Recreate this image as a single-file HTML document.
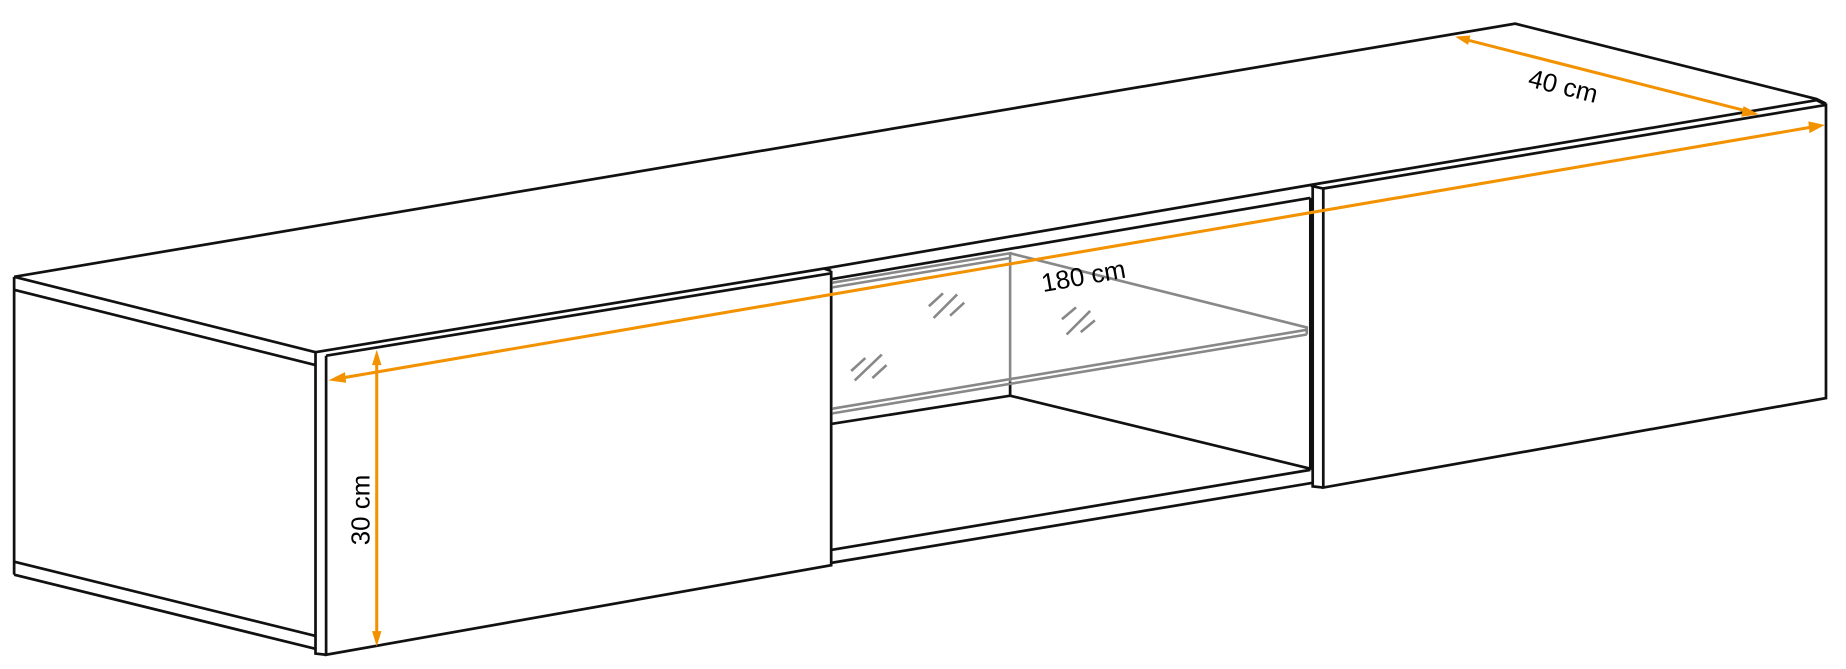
<!DOCTYPE html>
<html><head><meta charset="utf-8"><style>
html,body{margin:0;padding:0;background:#fff;}
svg{display:block;}
text{font-family:"Liberation Sans",sans-serif;font-size:22px;fill:#000;}
</style></head><body>
<svg width="1846" height="669" viewBox="0 0 1568 568" xmlns="http://www.w3.org/2000/svg">
<g fill="none" stroke="#111" stroke-width="2.3" stroke-linejoin="miter">
<path d="M12,235 L1287,20 L1543,84 L1551,88"/>
<path d="M12,235 L268,299"/>
<path d="M12,246 L268,310"/>
<path d="M12,235 L12,488"/>
<path d="M12,477 L268,540"/>
<path d="M12,488 L268,551"/>
<path d="M268,299 L700,228 L706,230"/>
<path d="M277,302 L706,232"/>
<path d="M268,299 L268,555 L277,556"/>
<path d="M277,302 L277,556 L706,480 L706,230"/>
<path d="M700,228 L1113,157 L1543,85"/>
<path d="M706,237 L1113,168"/>
<path d="M1113,157 L1115,158 L1124,160"/>
<path d="M1115,158 L1115,413 L1124,414"/>
<path d="M1124,160 L1551,89 L1551,338 L1124,414 Z"/>
<path d="M1543,85 L1551,89"/>
<path d="M706,360 L858,336 L1113,398"/>
<path d="M858,324 L858,336"/>
<path d="M706,467 L1113,399"/>
<path d="M706,478 L1115,410"/>
<path d="M1113,168 L1113,399"/>
</g>
<g fill="none" stroke="#888" stroke-width="2.2">
<path d="M707,240 L858,215 L858,324"/>
<path d="M707,244 L858,219"/>
<path d="M858,215 L1110,278 L1110,284"/>
<path d="M707,347 L1110,280"/>
<path d="M707,351 L1110,284"/>
<path d="M789,260 L801,249 M793,270 L813,250 M807,268 L819,257"/>
<path d="M902,271 L914,261 M906,284 L926,264 M918,282 L930,272"/>
<path d="M723,315 L735,304 M726,323 L749,301 M741,321 L753,310"/>
</g>
<g stroke="#f39200" stroke-width="2.6" fill="#f39200">
<line x1="290" y1="321" x2="1538" y2="108"/>
<polygon points="279,323 293,316 294,325" stroke="none"/>
<polygon points="1550,106 1536,103 1537,113" stroke="none"/>
<line x1="320" y1="309" x2="320" y2="538"/>
<polygon points="320,297 316,310 324,310" stroke="none"/>
<polygon points="320,549 316,536 324,536" stroke="none"/>
<line x1="1247" y1="34" x2="1483" y2="94"/>
<polygon points="1236,31 1249,30 1247,38" stroke="none"/>
<polygon points="1494,97 1481,90 1479,99" stroke="none"/>
</g>
<text transform="translate(1297,73) rotate(14)">40 cm</text>
<text transform="translate(886,248) rotate(-10)">180 cm</text>
<text transform="translate(314,463) rotate(-90)">30 cm</text>
</svg>
</body></html>
